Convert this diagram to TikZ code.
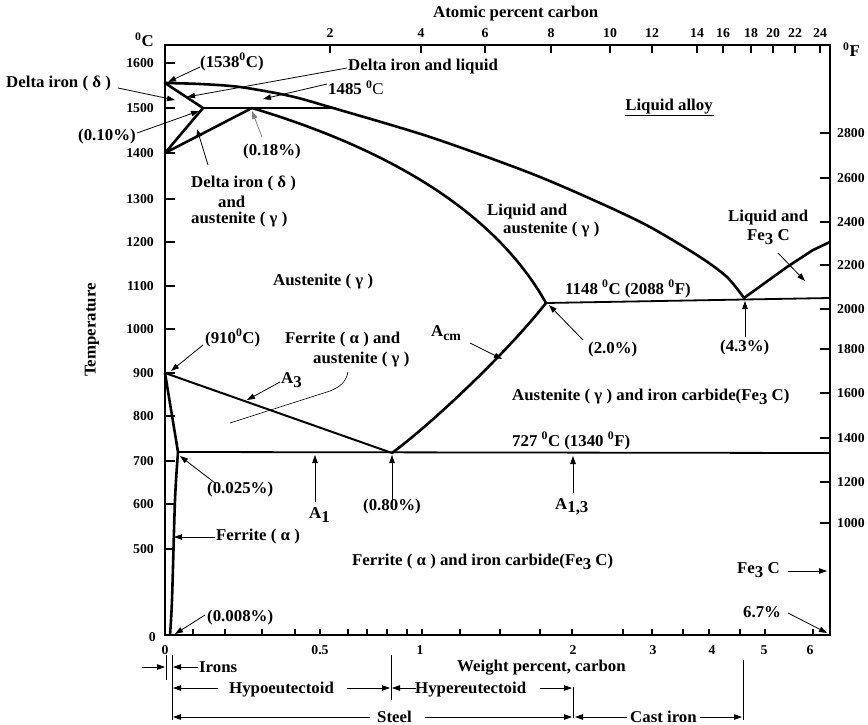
\documentclass[tikz,border=0pt]{standalone}
\usepackage{fontspec}
\setmainfont{Liberation Serif}[FakeStretch=1.02]
\usetikzlibrary{arrows.meta}
\newcommand\degz{\textsuperscript{0}}
\newcommand\lsub[1]{\raisebox{-0.45ex}{#1}}
\begin{document}
\begin{tikzpicture}[x=1pt,y=-1pt,
  font=\fontsize{16.5}{19}\selectfont\bfseries,
  every node/.style={inner sep=0pt},
  lbl/.style={anchor=west},
  num/.style={font=\fontsize{13.5}{15}\selectfont\bfseries},
  phase/.style={line width=2.6pt, line join=round, line cap=round},
  isoline/.style={line width=1.8pt},
  frame/.style={line width=1.8pt},
  tickmark/.style={line width=1.6pt},
  pointer/.style={line width=0.8pt, -{Triangle[length=8pt,width=5.5pt]}},
  dimline/.style={line width=0.8pt},
]
\useasboundingbox (0,0) rectangle (868,725);

% frame
\draw[frame] (165,45) rectangle (830,635);

% left temperature axis (C)
\foreach \t/\y in {1600/63,1500/108,1400/153,1300/199,1200/242,1100/286,1000/329,900/373,800/416,700/461,600/504,500/549}{
  \draw[tickmark] (165,\y) -- (175,\y);
  \node[num,anchor=east] (tl\t) at (154,\y) {\t};
}
\node[num,anchor=east] (tl0) at (156,637) {0};
\node[lbl] (uc) at (135,40) {\degz C};
\node[rotate=90] (temp) at (92,330) {Temperature};

% right temperature axis (F)
\foreach \t/\y in {2800/133,2600/178,2400/222,2200/265,2000/309,1800/349,1600/393,1400/438,1200/482,1000/523}{
  \draw[tickmark] (820,\y) -- (830,\y);
  \node[num,anchor=west] (tr\t) at (837,\y) {\t};
}
\node[lbl] (uf) at (843,50) {\degz F};

% top atomic percent axis
\foreach \a/\x in {2/330,4/421,6/485,8/551,10/610,12/652,14/697,16/723,18/751,20/773,22/795,24/820}{
  \draw[tickmark] (\x,45) -- (\x,53);
  \node[num] (ta\a) at (\x,33) {\a};
}
\node[lbl] (atomic) at (433,14) {Atomic percent carbon};

% bottom weight percent axis
\foreach \x in {193,225,262,295,320,348,367,387,407,422,460,500,540,572,623,652,683,709,740,765,813}{
  \draw[line width=1.2pt] (\x,635) -- (\x,629);
}
\foreach \w/\x in {0/165,0.5/320,1/420,2/573,3/653,4/712,5/764,6/810}{
  \node[num] (bw\x) at (\x,650) {\w};
}
\node[lbl] (weight) at (457,668) {Weight percent, carbon};

% ---- phase boundaries ----
% liquidus (left branch)
\draw[phase] plot[smooth,tension=0.5] coordinates {(165,83) (200,84) (240,87) (290,96) (333,108) (430,137) (530,173) (600,203) (650,227) (700,257) (727,277) (744,298)};
% delta region
\draw[phase] (165,83) -- (203,108);
\draw[phase] (203,108) -- (335,108);
\draw[phase] (203,108) -- (165,153) -- (252,108);
% solidus of austenite
\draw[phase] (252,108) .. controls (372,144) and (490,203) .. (546,303);
% Acm
\draw[phase] (392,453) .. controls (430,425) and (505,355) .. (546,303);
% A3
\draw[line width=2pt] (165,373) -- (392,453);
% ferrite solvus
\draw[phase] (165,373) -- (178,452);
\draw[phase] plot[smooth,tension=0.5] coordinates {(178,452) (175,500) (172,600) (170,635)};
% eutectoid and eutectic isotherms
\draw[isoline] (178,452) -- (830,453);
\draw[isoline] (546,303) -- (830,298);
% liquidus (right branch)
\draw[phase] (744,298) -- (787,267) -- (813,250) -- (830,242);

% ---- labels ----
\node[lbl] (l1538) at (200,62) {(1538\degz C)};
\draw[pointer] (200,67) -- (168,82);
\node[lbl] (ldelta) at (6,83) {Delta iron ( δ )};
\draw[pointer] (118,88) -- (175,100);
\node[lbl] (ldl) at (348,67) {Delta iron and liquid};
\draw[pointer] (347,68) -- (187,97);
\node[lbl] (l1485) at (328,88) {1485 \degz{\mdseries C}};
\draw[pointer] (327,84) -- (263,99);
\node[lbl] (l010) at (78,137) {(0.10\%)};
\draw[pointer] (137,133) -- (199,111);
\node[lbl] (l018) at (243,152) {(0.18\%)};
\draw[pointer,gray] (262,137) -- (252,111);
\node[lbl] (lda1) at (191,183) {Delta iron ( δ )};
\node[lbl] (lda2) at (218,202) {and};
\node[lbl] (lda3) at (191,220) {austenite ( γ )};
\draw[pointer] (208,165) -- (197,129);

\node (lalloy) at (669,107) {Liquid alloy};
\draw[line width=1pt] (625,115) -- (714,115);

\node[lbl] (lla1) at (487,212) {Liquid and};
\node[lbl] (lla2) at (503,230) {austenite ( γ )};
\node[lbl] (llf1) at (728,218) {Liquid and};
\node[lbl] (llf2) at (747,237) {Fe\lsub{3} C};
\draw[pointer] (778,253) -- (805,281);

\node[lbl] (laus) at (273,282) {Austenite ( γ )};
\node[lbl] (l1148) at (565,289) {1148 \degz C (2088 \degz F)};
\node[lbl] (l20) at (588,350) {(2.0\%)};
\draw[pointer] (583,340) -- (549,305);
\node[lbl] (l43) at (720,348) {(4.3\%)};
\draw[pointer] (745,337) -- (745,301);
\node[lbl] (lacm) at (431,333) {A\lsub{\fontsize{13.5}{15}\selectfont cm}};
\draw[pointer] (470,343) -- (502,359);

\node[lbl] (l910) at (205,338) {(910\degz C)};
\draw[pointer] (203,345) -- (171,371);
\node[lbl] (lfa1) at (285,340) {Ferrite ( α ) and};
\node[lbl] (lfa2) at (313,360) {austenite ( γ )};
\draw[line width=0.6pt] (348,372) .. controls (346,382) and (340,387) .. (330,391) -- (230,423);
\node[lbl] (la3) at (281,380) {A\lsub{3}};
\draw[pointer] (280,382) -- (247,400);

\node[lbl] (lagc) at (512,397) {Austenite ( γ ) and iron carbide(Fe\lsub{3} C)};
\node[lbl] (l727) at (512,441) {727 \degz C (1340 \degz F)};

\node[lbl] (l0025) at (207,490) {(0.025\%)};
\draw[pointer] (215,483) -- (180,456);
\node[lbl] (la1) at (309,515) {A\lsub{1}};
\draw[pointer] (315,502) -- (315,455);
\node[lbl] (l080) at (363,507) {(0.80\%)};
\draw[pointer] (392,500) -- (392,455);
\node[lbl] (la13) at (555,507) {A\lsub{1,3}};
\draw[pointer] (573,493) -- (573,456);

\node[lbl] (lfer) at (216,537) {Ferrite ( α )};
\draw[pointer] (215,537) -- (174,537);
\node[lbl] (lfc) at (352,562) {Ferrite ( α ) and iron carbide(Fe\lsub{3} C)};
\node[lbl] (lfe3c) at (737,570) {Fe\lsub{3} C};
\draw[pointer] (788,571) -- (827,571);
\node[lbl] (l67) at (743,612) {6.7\%};
\draw[pointer] (788,613) -- (827,633);
\node[lbl] (l0008) at (207,618) {(0.008\%)};
\draw[pointer] (205,615) -- (175,634);

% ---- bottom classification ----
\draw[dimline] (166,655) -- (166,680);
\draw[dimline] (172,655) -- (172,720);
\draw[dimline] (391,655) -- (391,700);
\draw[dimline] (573,687) -- (573,718);
\draw[dimline] (743,660) -- (743,720);

\node[lbl] (lirons) at (199,667) {Irons};
\draw[pointer] (142,667) -- (165,667);
\draw[pointer] (198,667) -- (173,667);

\node[lbl] (lhypo) at (229,690) {Hypoeutectoid};
\draw[pointer] (218,688) -- (173,688);
\draw[pointer] (347,688) -- (390,688);
\node[lbl] (lhyper) at (415,690) {Hypereutectoid};
\draw[pointer] (416,688) -- (392,688);
\draw[pointer] (540,688) -- (572,688);

\node[lbl] (lsteel) at (377,717) {Steel};
\draw[pointer] (370,717) -- (173,717);
\draw[pointer] (425,717) -- (572,717);
\node[lbl] (lcast) at (630,717) {Cast iron};
\draw[pointer] (627,717) -- (575,717);
\draw[pointer] (700,717) -- (742,717);
\end{tikzpicture}
\end{document}
